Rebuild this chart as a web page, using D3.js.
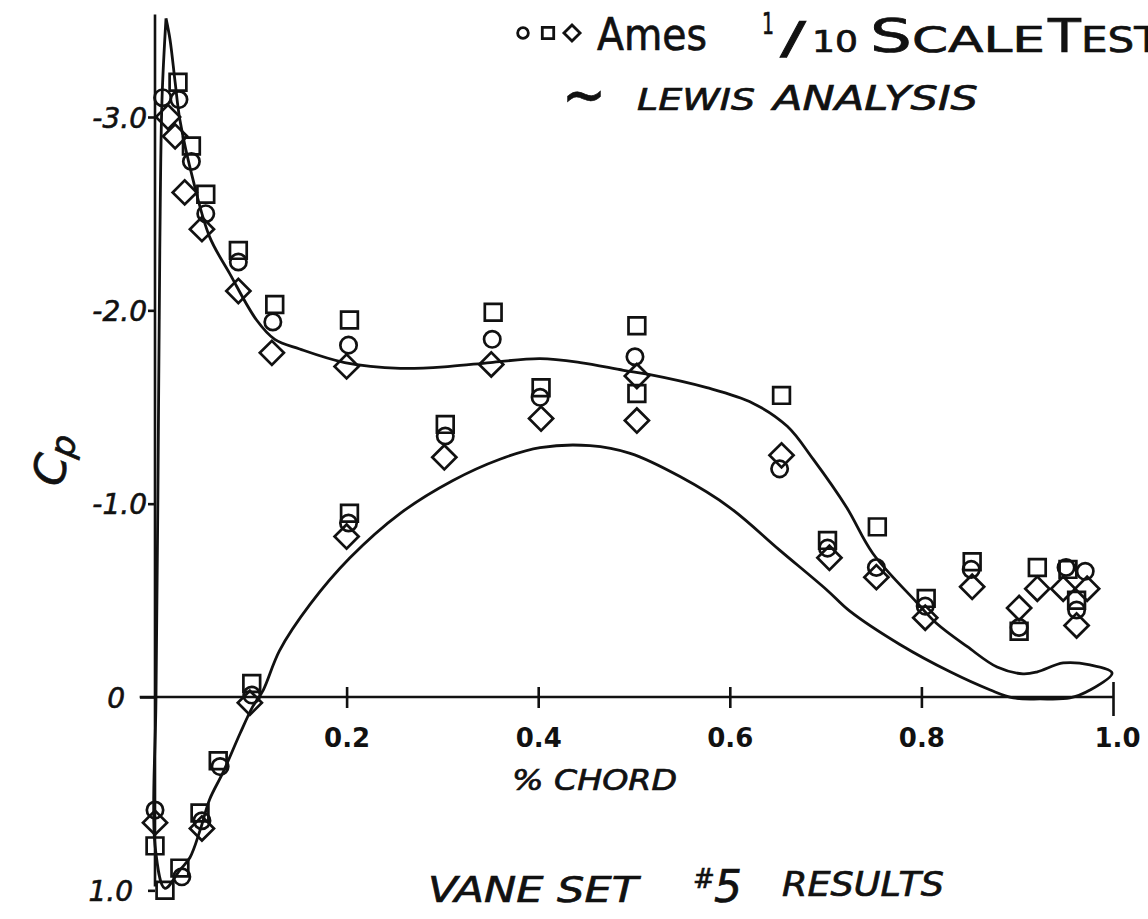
<!DOCTYPE html>
<html><head><meta charset="utf-8">
<script src="https://cdn.jsdelivr.net/npm/d3@7"></script>
<style>body{margin:0;background:#fff;} svg{display:block;}</style>
</head><body><svg id="c" width="1148" height="919"></svg>
<script>
// ---------- DATA ----------
const xTicks = [0.2, 0.4, 0.6, 0.8, 1.0];
const xTickLabels = ["0.2", "0.4", "0.6", "0.8", "1.0"];
const yTicks = [-3, -2, -1, 0, 1];
const yTickLabels = ["-3.0", "-2.0", "-1.0", "0", "1.0"];

// Ames 1/10 scale test - circles
const circleX  = [0.008, 0.025, 0.038, 0.053, 0.087, 0.123, 0.202, 0.352, 0.501, 0.652, 0.702, 0.753, 0.804, 0.852, 0.902, 0.951, 0.971,
                  0.000, 0.028, 0.049, 0.068, 0.101, 0.202, 0.303, 0.402, 0.962];
const circleCp = [-3.10, -3.09, -2.77, -2.50, -2.25, -1.94, -1.82, -1.85, -1.76, -1.18, -0.77, -0.67, -0.47, -0.66, -0.36, -0.67, -0.65,
                  0.585, 0.93, 0.64, 0.36, -0.01, -0.90, -1.35, -1.55, -0.45];
// squares
const squareX  = [0.024, 0.038, 0.053, 0.087, 0.125, 0.203, 0.353, 0.503, 0.654, 0.702, 0.754, 0.805, 0.853, 0.902, 0.921, 0.953, 0.962,
                  0.000, 0.0104, 0.026, 0.047, 0.066, 0.101, 0.203, 0.303, 0.403, 0.503];
const squareCp = [-3.18, -2.85, -2.60, -2.31, -2.03, -1.95, -1.99, -1.92, -1.56, -0.81, -0.88, -0.51, -0.70, -0.34, -0.67, -0.66, -0.50,
                  0.77, 1.00, 0.885, 0.60, 0.33, -0.07, -0.95, -1.41, -1.60, -1.57];
// diamonds
const diamondX  = [0.0136, 0.021, 0.031, 0.049, 0.087, 0.122, 0.200, 0.351, 0.503, 0.654, 0.704, 0.753, 0.804, 0.853, 0.902, 0.921, 0.948, 0.973, 0.962,
                   0.000, 0.049, 0.099, 0.200, 0.302, 0.403, 0.503];
const diamondCp = [-3.00, -2.90, -2.61, -2.42, -2.10, -1.78, -1.71, -1.72, -1.66, -1.25, -0.72, -0.62, -0.41, -0.57, -0.46, -0.56, -0.56, -0.56, -0.37,
                   0.65, 0.68, 0.03, -0.83, -1.24, -1.44, -1.43];

// Lewis analysis - upper (suction) surface, LE to TE
const upperX  = [0.0115, 0.0157, 0.021, 0.026, 0.040, 0.057, 0.078, 0.106, 0.125, 0.151, 0.198, 0.256, 0.308, 0.350, 0.402, 0.444, 0.489, 0.514,
                 0.576, 0.624, 0.660, 0.687, 0.722, 0.749, 0.795, 0.816, 0.848, 0.879, 0.906, 0.921, 0.948, 0.976, 0.999];
const upperCp = [-3.51, -3.40, -3.18, -2.985, -2.67, -2.38, -2.19, -1.95, -1.85, -1.80, -1.73, -1.70, -1.71, -1.73, -1.75, -1.73, -1.69, -1.67,
                 -1.60, -1.52, -1.40, -1.23, -0.98, -0.745, -0.49, -0.38, -0.26, -0.155, -0.12, -0.13, -0.176, -0.166, -0.124];
// Lewis analysis - lower (pressure) surface, TE back to LE
const lowerX  = [0.976, 0.955, 0.924, 0.896, 0.872, 0.830, 0.778, 0.725, 0.701, 0.652, 0.600, 0.548, 0.496, 0.454, 0.402, 0.360, 0.311, 0.256,
                 0.2035, 0.162, 0.130, 0.113, 0.102, 0.089, 0.071, 0.057, 0.047, 0.0365, 0.026, 0.0104, 0.000, 0.001, 0.003, 0.005, 0.0073, 0.0115];
const lowerCp = [-0.036, 0.005, 0.01, 0.005, -0.036, -0.13, -0.27, -0.445, -0.555, -0.76, -0.98, -1.14, -1.26, -1.30, -1.29, -1.23, -1.12, -0.95,
                 -0.72, -0.48, -0.24, -0.036, 0.05, 0.186, 0.39, 0.53, 0.69, 0.83, 0.895, 0.99, 0.766, 0.016, -1.02, -2.31, -3.09, -3.51];

// ---------- CHART ----------
const svg = d3.select("#c");
const ink = "#111";
const x = d3.scaleLinear().domain([0, 1]).range([155, 1113]);
const y = d3.scaleLinear().domain([0, -3]).range([697, 117]);

const FONT = "'DejaVu Sans', sans-serif";

// axis lines
svg.append("line").attr("x1", x(-0.016)).attr("x2", x(1)).attr("y1", y(0)).attr("y2", y(0))
  .attr("stroke", ink).attr("stroke-width", 2.6);
svg.append("line").attr("x1", x(0)).attr("x2", x(0)).attr("y1", y(-3.53)).attr("y2", y(0.98))
  .attr("stroke", ink).attr("stroke-width", 2.6);

// x axis ticks
const gx = svg.append("g").attr("transform", `translate(0,${y(0)})`)
  .call(d3.axisBottom(x).tickValues(xTicks).tickFormat((d, i) => xTickLabels[i]).tickSize(10).tickSizeOuter(0));
gx.select(".domain").remove();
gx.selectAll(".tick line").attr("stroke", ink).attr("stroke-width", 2.6)
  .attr("y1", d => d === 1 ? -15 : -10).attr("y2", d => d === 1 ? 19 : 11);
gx.selectAll(".tick text").attr("fill", ink).attr("font-family", FONT).attr("font-weight", "bold")
  .attr("font-size", 26).attr("y", 50).attr("dy", 0)
  .attr("dx", d => d === 1 ? 4 : 0);

// y axis ticks
const gy = svg.append("g").attr("transform", `translate(${x(0)},0)`)
  .call(d3.axisLeft(y).tickValues(yTicks).tickFormat((d, i) => yTickLabels[i]).tickSize(7).tickPadding(1).tickSizeOuter(0));
gy.select(".domain").remove();
gy.selectAll(".tick line").attr("stroke", ink).attr("stroke-width", 2.6)
  .attr("x2", d => d === 0 ? -15 : -7);
gy.selectAll(".tick text").attr("fill", ink).attr("font-family", FONT).attr("font-style", "italic")
  .attr("font-size", 28).attr("dy", "0.36em").attr("stroke", ink).attr("stroke-width", 0.6)
  .attr("x", d => d === 0 ? -30 : (d === 1 ? -22 : -8));

// analysis curve (closed loop)
const pts = upperX.map((d, i) => [d, upperCp[i]]).concat(lowerX.map((d, i) => [d, lowerCp[i]]));
const line = d3.line().x(d => x(d[0])).y(d => y(d[1])).curve(d3.curveCatmullRom.alpha(0.5));
svg.append("path").attr("d", line(pts)).attr("fill", "none").attr("stroke", ink)
  .attr("stroke-width", 2.8).attr("stroke-linejoin", "round");

// markers
const mk = (xs, ys, type, size, rot) => {
  svg.append("g").selectAll("path").data(xs.map((d, i) => [d, ys[i]])).join("path")
    .attr("d", d3.symbol().type(type).size(size))
    .attr("transform", d => `translate(${x(d[0])},${y(d[1])}) rotate(${rot})`)
    .attr("fill", "none").attr("stroke", ink).attr("stroke-width", 2.7);
};
mk(circleX, circleCp, d3.symbolCircle, 210, 0);
mk(squareX, squareCp, d3.symbolSquare, 280, 0);
mk(diamondX, diamondCp, d3.symbolSquare, 290, 45);

// legend
const lg = svg.append("g");
lg.append("path").attr("d", d3.symbol().type(d3.symbolCircle).size(90)()).attr("transform", "translate(523,33)")
  .attr("fill", "none").attr("stroke", ink).attr("stroke-width", 2.8);
lg.append("path").attr("d", d3.symbol().type(d3.symbolSquare).size(130)()).attr("transform", "translate(548,33)")
  .attr("fill", "none").attr("stroke", ink).attr("stroke-width", 2.8);
lg.append("path").attr("d", d3.symbol().type(d3.symbolSquare).size(130)()).attr("transform", "translate(572,33) rotate(45)")
  .attr("fill", "none").attr("stroke", ink).attr("stroke-width", 2.8);

const txt = (s, px, py, size, opts = {}) => {
  const t = svg.append("text").attr("x", px).attr("y", py).attr("font-family", FONT)
    .attr("font-size", size).attr("fill", ink).attr("stroke", ink).attr("stroke-width", 0.7).text(s);
  if (opts.len) t.attr("textLength", opts.len).attr("lengthAdjust", "spacingAndGlyphs");
  if (opts.italic) t.attr("font-style", "italic");
  if (opts.anchor) t.attr("text-anchor", opts.anchor);
  if (opts.weight) t.attr("font-weight", opts.weight);
  return t;
};
txt("Ames", 597, 50, 44, {len: 110});
txt("1", 762, 34, 30, {len: 12});
txt("/", 780, 54, 44, {len: 26});
txt("10", 812, 52, 30, {len: 46});
const sc = txt("", 870, 52, 46);
sc.append("tspan").text("S");
sc.append("tspan").attr("font-size", 36).text("CALE");
sc.attr("textLength", 175).attr("lengthAdjust", "spacingAndGlyphs");
const ts = txt("", 1048, 52, 46);
ts.append("tspan").text("T");
ts.append("tspan").attr("font-size", 36).text("EST");
ts.attr("textLength", 112).attr("lengthAdjust", "spacingAndGlyphs");

txt("~", 562, 116, 64, {len: 44});
txt("LEWIS", 637, 110, 30, {len: 118, italic: true});
txt("ANALYSIS", 773, 110, 34, {len: 205, italic: true});

// axis titles
const cp = svg.append("text").attr("transform", "translate(62,488) rotate(-78)")
  .attr("font-family", FONT).attr("font-size", 44).attr("fill", ink).attr("font-style", "italic")
  .attr("stroke", ink).attr("stroke-width", 0.7);
cp.append("tspan").text("C");
cp.append("tspan").attr("font-size", 34).attr("dy", 4).text("p");

txt("% CHORD", 512, 790, 28, {len: 165, italic: true});
txt("VANE SET ", 428, 902, 36, {len: 210, italic: true});
txt("#", 693, 888, 26, {});
txt("5", 714, 902, 44, {italic: true});
txt("RESULTS", 782, 896, 34, {len: 162, italic: true});
</script></body></html>
